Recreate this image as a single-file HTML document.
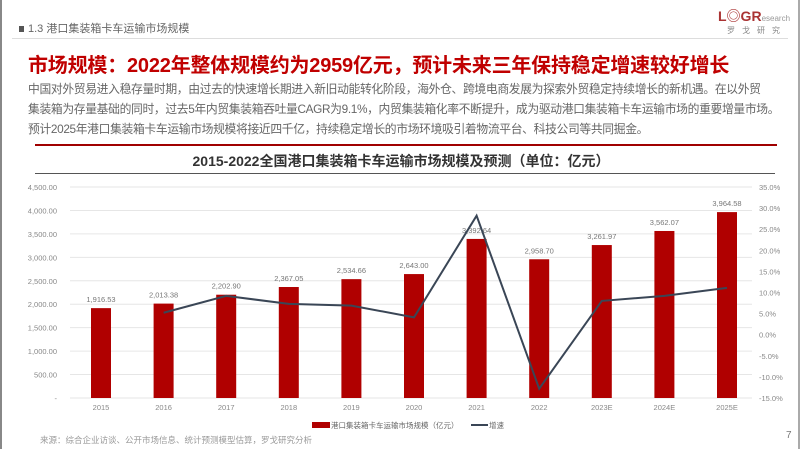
<!DOCTYPE html>
<html><head><meta charset="utf-8">
<style>
body{margin:0;width:802px;height:451px;overflow:hidden;background:#fff;font-family:"Liberation Sans","Noto Sans CJK SC",sans-serif;position:relative}
.abs{position:absolute;white-space:nowrap}
</style></head><body>
<div class="abs" style="left:0;top:0;width:800px;height:449px;border-left:2px solid #888;border-right:2px solid #aaa;box-sizing:border-box"></div>
<div class="abs" style="left:19px;top:20px;font-size:11px;color:#666"><span style="display:inline-block;width:5px;height:6px;background:#555;margin-right:4px"></span>1.3 港口集装箱卡车运输市场规模</div>
<div class="abs" style="left:12px;top:38px;width:776px;height:1px;background:#ddd"></div>
<div class="abs" style="left:718px;top:6px;font-size:14px;font-weight:bold;color:#a33">L◎GR<span style="font-size:8px;color:#999;font-weight:normal">esearch</span></div>
<div class="abs" style="left:727px;top:25px;font-size:8px;color:#888;letter-spacing:7px">罗戈研究</div>
<div class="abs" style="left:28px;top:49px;font-size:20px;font-weight:bold;color:#c00000;letter-spacing:-0.2px">市场规模：2022年整体规模约为2959亿元，预计未来三年保持稳定增速较好增长</div>
<div class="abs" style="left:28px;top:79px;font-size:11.8px;line-height:20px;color:#666;letter-spacing:-0.35px">中国对外贸易进入稳存量时期，由过去的快速增长期进入新旧动能转化阶段，海外仓、跨境电商发展为探索外贸稳定持续增长的新机遇。在以外贸<br>集装箱为存量基础的同时，过去5年内贸集装箱吞吐量CAGR为9.1%，内贸集装箱化率不断提升，成为驱动港口集装箱卡车运输市场的重要增量市场。<br>预计2025年港口集装箱卡车运输市场规模将接近四千亿，持续稳定增长的市场环境吸引着物流平台、科技公司等共同掘金。</div>
<div class="abs" style="left:35px;top:144px;width:742px;height:2px;background:#a00000"></div>
<div class="abs" style="left:0;width:802px;text-align:center;top:151px;font-size:14px;font-weight:bold;color:#333">2015-2022全国港口集装箱卡车运输市场规模及预测（单位：亿元）</div>
<div class="abs" style="left:35px;top:173px;width:740px;height:1px;background:#555"></div>
<svg class="abs" style="left:0;top:0" width="802" height="451" id="chart"></svg>
<div class="abs" style="left:40px;top:434px;font-size:8.5px;color:#999">来源：综合企业访谈、公开市场信息、统计预测模型估算，罗戈研究分析</div>
<div class="abs" style="left:786px;top:430px;font-size:10px;color:#777">7</div>
<script>
const categories=["2015","2016","2017","2018","2019","2020","2021","2022","2023E","2024E","2025E"];
const marketSize=[1916.53,2013.38,2202.90,2367.05,2534.66,2643.00,3392.64,2958.70,3261.97,3562.07,3964.58];
const sizeLabels=["1,916.53","2,013.38","2,202.90","2,367.05","2,534.66","2,643.00","3,392.64","2,958.70","3,261.97","3,562.07","3,964.58"];
const growth=[null,5.2,9.2,7.3,6.9,4.1,28.2,-12.8,8.0,9.2,11.1];
const leftTicks=[0,500,1000,1500,2000,2500,3000,3500,4000,4500];
const rightTicks=[-15,-10,-5,0,5,10,15,20,25,30,35];
const NS="http://www.w3.org/2000/svg";
const svg=document.getElementById('chart');
const x0=70,x1=752,yTop=187,yBot=398;
const yL=v=>yBot-(v/4500)*(yBot-yTop);
const yR=v=>yBot-((v+15)/50)*(yBot-yTop);
const step=(727-101)/(categories.length-1);
const xC=i=>101+i*step;
function el(t,a){const e=document.createElementNS(NS,t);for(const k in a)e.setAttribute(k,a[k]);svg.appendChild(e);return e;}
leftTicks.forEach((t,i)=>{
 const g=el('line',{x1:x0,x2:x1,y1:yL(t),y2:yL(t),stroke:'#e6e6e6','stroke-width':1});
 
 
 const tx=el('text',{x:57,y:yL(t)+3,'text-anchor':'end','font-size':7.5,fill:'#888'});
 tx.textContent=t===0?'-':t.toLocaleString('en-US',{minimumFractionDigits:2});
 
 
});
rightTicks.forEach(t=>{
 const tx=el('text',{x:759,y:yR(t)+3,'font-size':7.5,fill:'#888'});
 tx.textContent=t.toFixed(1)+'%';
 
 
});
categories.forEach((c,i)=>{
 const b=el('rect',{x:xC(i)-10,y:yL(marketSize[i]),width:20,height:yBot-yL(marketSize[i]),fill:'#b00000'});
 
 
 const l=el('text',{x:xC(i),y:yL(marketSize[i])-6,'text-anchor':'middle','font-size':7.5,fill:'#777'});
 l.textContent=sizeLabels[i];
 
 
 const xl=el('text',{x:xC(i),y:410,'text-anchor':'middle','font-size':7.5,fill:'#888'});
 xl.textContent=c;
 
 
});
let pts=[];growth.forEach((g,i)=>{if(g!==null)pts.push(xC(i)+','+yR(g));});
const pl=el('polyline',{points:pts.join(' '),fill:'none',stroke:'#3a4656','stroke-width':2});


const lb=el('rect',{x:312,y:422,width:18,height:6,fill:'#b00000'});


const lt=el('text',{x:331,y:428,'font-size':7.5,fill:'#666'});lt.textContent='港口集装箱卡车运输市场规模（亿元）';


const ll=el('line',{x1:471,x2:488,y1:425,y2:425,stroke:'#3a4656','stroke-width':2});


const lt2=el('text',{x:489,y:428,'font-size':7.5,fill:'#666'});lt2.textContent='增速';


</script>
</body></html>
